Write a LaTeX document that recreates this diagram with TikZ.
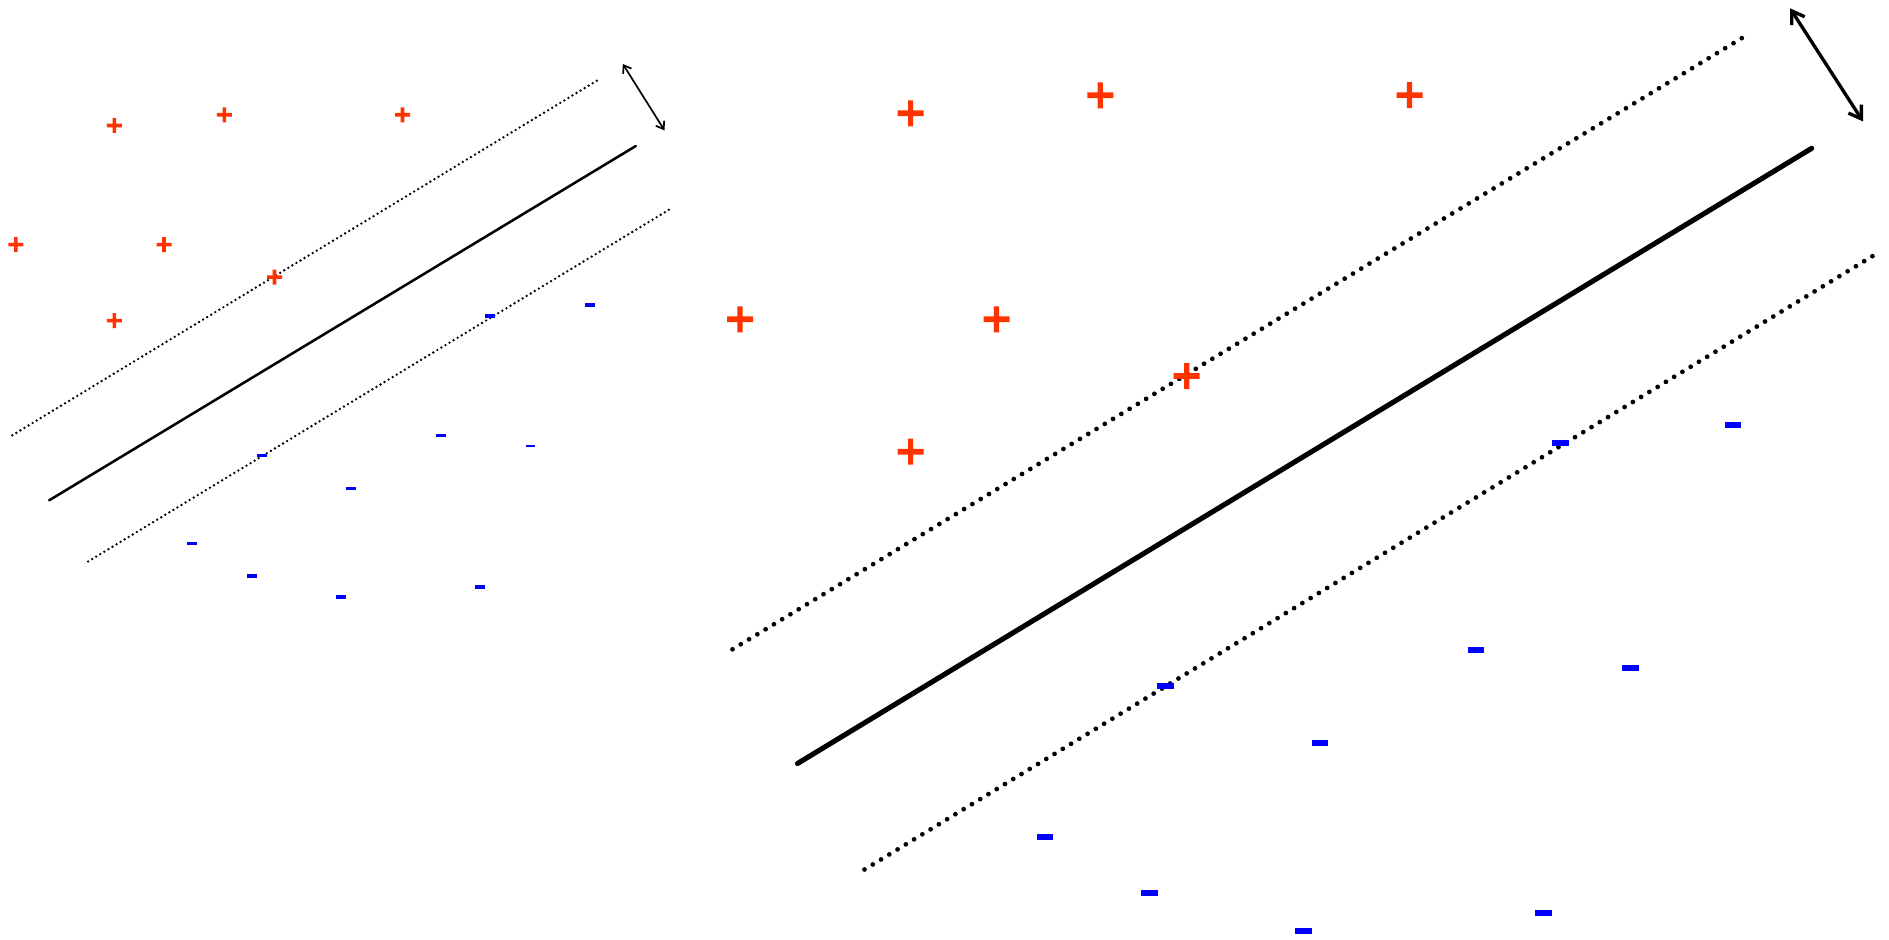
\documentclass[tikz,border=0pt]{standalone}
\usetikzlibrary{arrows.meta}
\definecolor{plusred}{RGB}{255,51,0}
\definecolor{minusblue}{RGB}{0,0,255}
\begin{document}
\begin{tikzpicture}[x=0.01cm,y=-0.01cm,
  margeL/.style={line width=0.75pt,dash pattern=on 0pt off 1.35pt,line cap=round},
  margeR/.style={line width=1.35pt,dash pattern=on 0pt off 2.75pt,line cap=round},
  frontL/.style={line width=0.72pt,line cap=round},
  frontR/.style={line width=1.45pt,line cap=round},
  flecheL/.style={line width=0.48pt,{Straight Barb[length=2pt,width=2.8pt]}-{Straight Barb[length=2pt,width=2.8pt]}},
  flecheR/.style={line width=0.95pt,{Straight Barb[length=3.4pt,width=4.4pt]}-{Straight Barb[length=3.4pt,width=4.4pt]}}]
  \useasboundingbox (0,0) rectangle (1889,940);

  % Petite figure (gauche) : marge et hyperplan
  \coordinate (hautL1) at (12.3,435.3);   \coordinate (hautL2) at (596.8,80.7);
  \coordinate (sepL1) at (49.2,500.3);    \coordinate (sepL2) at (635.8,146);
  \coordinate (basL1) at (88.1,561.5);    \coordinate (basL2) at (672.7,207.5);
  \coordinate (flecheL1) at (622.8,64);   \coordinate (flecheL2) at (664.5,130.4);
  \draw[margeL] (hautL1) -- (hautL2);
  \draw[frontL] (sepL1) -- (sepL2);
  \draw[margeL] (basL1) -- (basL2);
  \draw[flecheL] (flecheL1) -- (flecheL2);

  % Classe + (gauche)
  \foreach \x/\y in {114.4/125.5, 224.3/114.8, 402.5/114.8, 15.8/244.6,
                     164/244.6, 274.5/277.2, 114.4/320.6}
    \fill[plusred] (\x-7.5,\y-1.8) rectangle (\x+7.5,\y+1.8)
                   (\x-1.8,\y-7.5) rectangle (\x+1.8,\y+7.5);
  % Classe - (gauche)
  \foreach \x/\y in {489.5/315.8, 589.5/305.3, 262.3/455.3, 441/435.5,
                     350.8/488.3, 192/543.3, 252.3/575.7, 341.2/596.8, 480/586.8}
    \fill[minusblue] (\x-5,\y-1.8) rectangle (\x+5,\y+1.8);
  \fill[minusblue] (525.7,445.2) rectangle (534.7,447.2);

  % Grande figure (droite) : meme chose en plus gros
  \coordinate (hautR1) at (732.5,649.3);  \coordinate (hautR2) at (1744.5,36.5);
  \coordinate (sepR1) at (797.5,763.5);   \coordinate (sepR2) at (1811.7,148.3);
  \coordinate (basR1) at (864.5,869.5);   \coordinate (basR2) at (1876,254);
  \coordinate (flecheR1) at (1790,8.3);   \coordinate (flecheR2) at (1863,121.5);
  \draw[margeR] (hautR1) -- (hautR2);
  \draw[frontR] (sepR1) -- (sepR2);
  \draw[margeR] (basR1) -- (basR2);
  \draw[flecheR] (flecheR1) -- (flecheR2);

  % Classe + (droite)
  \foreach \x/\y in {910.6/113.3, 1100.3/95.3, 1409.5/95.2, 740/319.3,
                     996.5/319.3, 1186.7/376, 910.6/451.7}
    \fill[plusred] (\x-13,\y-2.8) rectangle (\x+13,\y+2.8)
                   (\x-2.6,\y-13) rectangle (\x+2.6,\y+13);
  % Classe - (droite)
  \foreach \x/\y in {1560.3/443, 1732.7/424.5, 1476.2/649.7, 1630.6/668.3,
                     1165.6/685.8, 1319.7/742.7, 1044.8/837, 1149.5/893.2,
                     1303.5/930.5, 1543.6/912.5}
    \fill[minusblue] (\x-8.2,\y-3) rectangle (\x+8.2,\y+3);
\end{tikzpicture}
\end{document}
